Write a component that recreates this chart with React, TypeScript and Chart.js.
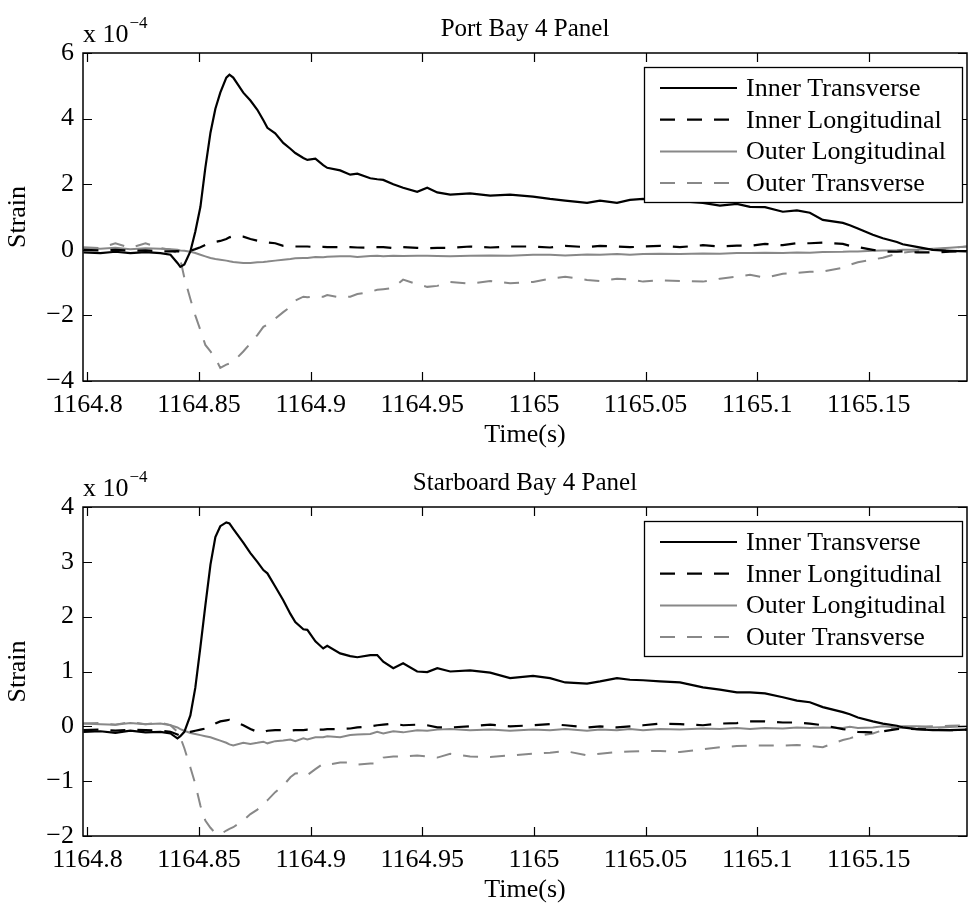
import React, { useEffect, useRef } from "react";
import { Chart, registerables } from "chart.js";

Chart.register(...registerables);

const FONT = '"Liberation Serif", "Times New Roman", Times, serif';

// shared time base (s)
const timeS = [
  1164.7982, 1164.8058, 1164.8125, 1164.8192, 1164.826, 1164.8327, 1164.8372, 1164.8403, 1164.8416, 1164.8434,
  1164.8461, 1164.8483, 1164.8506, 1164.8528, 1164.8551, 1164.8573, 1164.8595, 1164.8622, 1164.8636, 1164.8653,
  1164.8698, 1164.873, 1164.8761, 1164.8788, 1164.8806, 1164.8841, 1164.8877, 1164.8909, 1164.8931, 1164.8967,
  1164.8985, 1164.9021, 1164.9056, 1164.9074, 1164.9132, 1164.9177, 1164.9209, 1164.9267, 1164.9298, 1164.9325,
  1164.937, 1164.9414, 1164.9477, 1164.9522, 1164.9567, 1164.9625, 1164.9714, 1164.9804, 1164.9893, 1164.9996,
  1165.0072, 1165.014, 1165.0238, 1165.0296, 1165.0372, 1165.043, 1165.0489, 1165.0565, 1165.0654, 1165.0757,
  1165.0833, 1165.0909, 1165.0968, 1165.1035, 1165.1115, 1165.1178, 1165.1236, 1165.1294, 1165.1384, 1165.1415,
  1165.1451, 1165.1518, 1165.1563, 1165.1626, 1165.1652, 1165.1715, 1165.1787, 1165.1863, 1165.1939,
];

// Port Bay 4 Panel (x 1e-4)
const portInnerTransverse = [
  -0.08, -0.1, -0.06, -0.1, -0.07, -0.1, -0.15, -0.4, -0.52, -0.45,
  -0.05, 0.55, 1.31, 2.5, 3.57, 4.3, 4.79, 5.25, 5.34, 5.25,
  4.79, 4.55, 4.27, 3.95, 3.72, 3.55, 3.26, 3.08, 2.95, 2.8,
  2.74, 2.78, 2.58, 2.5, 2.42, 2.29, 2.32, 2.18, 2.15, 2.13,
  2.0, 1.89, 1.77, 1.89, 1.75, 1.68, 1.72, 1.65, 1.68, 1.62,
  1.55, 1.5, 1.43, 1.5, 1.43, 1.52, 1.55, 1.5, 1.48, 1.43,
  1.35, 1.4, 1.31, 1.3, 1.16, 1.2, 1.13, 0.91, 0.82, 0.75,
  0.65, 0.46, 0.35, 0.24, 0.17, 0.09, 0.0, -0.03, -0.05,
];
const portInnerLongitudinal = [
  0, -0.02, 0, -0.03, -0.02, -0.05, -0.05, -0.04, -0.05, -0.05,
  -0.03, 0.02, 0.08, 0.15, 0.2, 0.24, 0.27, 0.33, 0.38, 0.42,
  0.4, 0.33, 0.28, 0.24, 0.22, 0.2, 0.12, 0.11, 0.1, 0.1,
  0.1, 0.08, 0.09, 0.08, 0.08, 0.08, 0.07, 0.06, 0.08, 0.08,
  0.05, 0.08, 0.06, 0.05, 0.06, 0.06, 0.1, 0.07, 0.1, 0.1,
  0.07, 0.12, 0.08, 0.12, 0.1, 0.08, 0.1, 0.12, 0.08, 0.14,
  0.1, 0.13, 0.12, 0.18, 0.14, 0.2, 0.2, 0.22, 0.18, 0.12,
  0.08, 0, -0.05, -0.06, -0.05, -0.08, -0.08, -0.06, -0.04,
];
const portOuterLongitudinal = [
  0.05, 0.03, 0.06, 0.02, 0.05, 0.03, 0.02, 0, -0.02, -0.03,
  -0.06, -0.1, -0.15, -0.2, -0.25, -0.28, -0.3, -0.33, -0.35, -0.37,
  -0.4, -0.4, -0.38, -0.37, -0.36, -0.33, -0.3, -0.28, -0.26, -0.25,
  -0.25, -0.22, -0.23, -0.21, -0.2, -0.2, -0.22, -0.19, -0.18, -0.2,
  -0.18, -0.19, -0.18, -0.18, -0.19, -0.2, -0.18, -0.17, -0.18, -0.15,
  -0.15, -0.17, -0.14, -0.15, -0.13, -0.15, -0.13, -0.12, -0.13, -0.11,
  -0.12, -0.1, -0.1, -0.09, -0.1, -0.08, -0.09, -0.07, -0.06, -0.05,
  -0.05, -0.03, -0.02, -0.01, 0, 0, 0.03, 0.06, 0.1,
];
const portOuterTransverse = [
  0.08, 0.05, 0.2, 0.06, 0.2, 0.05, 0, -0.1, -0.3, -0.85,
  -1.5, -2.0, -2.45, -2.9, -3.1, -3.3, -3.6, -3.5, -3.47, -3.41,
  -3.1, -2.85, -2.6, -2.35, -2.28, -2.1, -1.9, -1.74, -1.55, -1.43,
  -1.45, -1.42, -1.43, -1.38, -1.45, -1.43, -1.35, -1.28, -1.22, -1.2,
  -1.16, -0.91, -1.05, -1.13, -1.1, -0.98, -1.03, -0.95, -1.02, -0.98,
  -0.88, -0.82, -0.92, -0.95, -0.88, -0.9, -0.97, -0.93, -0.95, -0.97,
  -0.88, -0.82, -0.76, -0.85, -0.73, -0.7, -0.67, -0.66, -0.55, -0.46,
  -0.38, -0.3, -0.24, -0.12, -0.09, -0.04, 0, 0.05, 0.1,
];

// Starboard Bay 4 Panel (x 1e-4)
const stbdInnerTransverse = [
  -0.1, -0.09, -0.12, -0.08, -0.11, -0.1, -0.13, -0.22, -0.18, -0.1,
  0.2, 0.7, 1.45, 2.2, 2.95, 3.45, 3.65, 3.72, 3.7, 3.6,
  3.35, 3.16, 3.0, 2.85, 2.79, 2.55, 2.3, 2.05, 1.9, 1.77,
  1.76, 1.55, 1.42, 1.47, 1.33, 1.28, 1.26, 1.3, 1.3, 1.18,
  1.06, 1.15, 1.0, 0.99, 1.06, 1.0, 1.02, 0.98, 0.88, 0.92,
  0.88, 0.8, 0.78, 0.82, 0.88, 0.85, 0.84, 0.82, 0.8, 0.71,
  0.67, 0.62, 0.62, 0.6, 0.53, 0.47, 0.44, 0.35, 0.26, 0.22,
  0.16, 0.09, 0.05, 0.01, -0.02, -0.05, -0.07, -0.07, -0.06,
];
const stbdInnerLongitudinal = [
  -0.07, -0.06, -0.08, -0.06, -0.07, -0.08, -0.1, -0.15, -0.17, -0.14,
  -0.1, -0.08, -0.06, -0.04, 0, 0.05, 0.09, 0.11, 0.12, 0.1,
  0.02, -0.05, -0.1, -0.11, -0.08, -0.07, -0.07, -0.08, -0.07, -0.07,
  -0.06, -0.06, -0.06, -0.05, -0.05, -0.04, -0.02, 0, 0.02, 0.03,
  0.05, 0.02, 0.03, 0.02, -0.02, -0.02, 0, 0.03, 0, 0.02,
  0.04, 0.02, -0.02, 0, -0.02, 0, 0.02, 0.05, 0.04, 0.02,
  0.05, 0.06, 0.09, 0.09, 0.07, 0.07, 0.05, 0.02, -0.05, -0.07,
  -0.1, -0.11, -0.09, -0.05, -0.04, -0.05, -0.06, -0.07, -0.06,
];
const stbdOuterLongitudinal = [
  0.05, 0.04, 0.03, 0.06, 0.04, 0.05, 0.02, -0.02, -0.05, -0.08,
  -0.12, -0.14, -0.16, -0.18, -0.2, -0.23, -0.26, -0.3, -0.33, -0.35,
  -0.3, -0.32, -0.3, -0.28, -0.31, -0.27, -0.26, -0.24, -0.27, -0.22,
  -0.24, -0.2, -0.2, -0.18, -0.2, -0.16, -0.15, -0.14, -0.1, -0.13,
  -0.09, -0.11, -0.07, -0.08, -0.06, -0.05, -0.07, -0.06, -0.08, -0.06,
  -0.07, -0.05, -0.08, -0.06, -0.07, -0.05, -0.07, -0.05, -0.06, -0.04,
  -0.05, -0.03, -0.05, -0.03, -0.04, -0.02, -0.03, -0.02, -0.03, -0.01,
  -0.03, -0.02, 0, -0.02, 0, 0, -0.02, -0.01, 0,
];
const stbdOuterTransverse = [
  0.05, 0.06, 0.03, 0.08, 0.04, 0.07, 0.02, -0.1, -0.2, -0.4,
  -0.75, -1.05, -1.45, -1.72, -1.85, -1.95, -1.97, -1.9, -1.87, -1.84,
  -1.72, -1.6, -1.52, -1.4, -1.35, -1.2, -1.08, -0.93, -0.86, -0.84,
  -0.89, -0.78, -0.68, -0.7, -0.66, -0.66, -0.7, -0.68, -0.68, -0.57,
  -0.55, -0.55, -0.53, -0.55, -0.57, -0.5, -0.55, -0.56, -0.53, -0.5,
  -0.48, -0.45, -0.53, -0.5, -0.47, -0.46, -0.45, -0.45, -0.47, -0.42,
  -0.38, -0.36, -0.35, -0.35, -0.35, -0.34, -0.36, -0.38, -0.25, -0.22,
  -0.17, -0.13, -0.07, -0.04, -0.02, -0.01, 0, 0.01, 0.02,
];

const seriesLabels = ["Inner Transverse", "Inner Longitudinal", "Outer Longitudinal", "Outer Transverse"];
const seriesColors = ["#000000", "#000000", "#888888", "#888888"];
const seriesDashed = [false, true, false, true];

const xMin = 1164.798;
const xMax = 1165.194;
const xTicks = [1164.8, 1164.85, 1164.9, 1164.95, 1165, 1165.05, 1165.1, 1165.15];
const xTickLabels = ["1164.8", "1164.85", "1164.9", "1164.95", "1165", "1165.05", "1165.1", "1165.15"];

const portYTicks = [-4, -2, 0, 2, 4, 6];
const portYTickLabels = ["\u22124", "\u22122", "0", "2", "4", "6"];
const stbdYTicks = [-2, -1, 0, 1, 2, 3, 4];
const stbdYTickLabels = ["\u22122", "\u22121", "0", "1", "2", "3", "4"];

const xTitle = "Time(s)";
const yTitle = "Strain";
const exponentBase = "x 10";
const exponentPower = "\u22124";

type PanelSpec = {
  title: string;
  values: number[][];
  yTicks: number[];
  yTickLabels: string[];
  height: number;
  plotTop: number;
  plotBottom: number;
  titleCenter: number;
  xTitlePadBottom: number;
};

const panels: PanelSpec[] = [
  {
    title: "Port Bay 4 Panel",
    values: [portInnerTransverse, portInnerLongitudinal, portOuterLongitudinal, portOuterTransverse],
    yTicks: portYTicks,
    yTickLabels: portYTickLabels,
    height: 452,
    plotTop: 53,
    plotBottom: 381,
    titleCenter: 29,
    xTitlePadBottom: 4,
  },
  {
    title: "Starboard Bay 4 Panel",
    values: [stbdInnerTransverse, stbdInnerLongitudinal, stbdOuterLongitudinal, stbdOuterTransverse],
    yTicks: stbdYTicks,
    yTickLabels: stbdYTickLabels,
    height: 451,
    plotTop: 55,
    plotBottom: 384,
    titleCenter: 31,
    xTitlePadBottom: 0,
  },
];

const FS = 26;
const TITLE_FS = 25;
const TICK_LEN = 9;
const DASH = [15, 12];

const matlabPlugin = {
  id: "matlabDecor",
  afterDatasetsDraw(chart: any) {
    const { ctx, chartArea } = chart;
    const { left, right, top, bottom } = chartArea;
    const xs = chart.scales.x;
    const ys = chart.scales.y;
    ctx.save();
    // axes box + inward ticks
    ctx.strokeStyle = "#000";
    ctx.lineWidth = 1.5;
    ctx.setLineDash([]);
    ctx.strokeRect(left, top, right - left, bottom - top);
    ctx.beginPath();
    xs.ticks.forEach((t: any) => {
      const px = Math.round(xs.getPixelForValue(t.value)) + 0.5;
      ctx.moveTo(px, bottom);
      ctx.lineTo(px, bottom - TICK_LEN);
      ctx.moveTo(px, top);
      ctx.lineTo(px, top + TICK_LEN);
    });
    ys.ticks.forEach((t: any) => {
      const py = Math.round(ys.getPixelForValue(t.value)) + 0.5;
      ctx.moveTo(left, py);
      ctx.lineTo(left + TICK_LEN, py);
      ctx.moveTo(right, py);
      ctx.lineTo(right - TICK_LEN, py);
    });
    ctx.lineWidth = 1.2;
    ctx.stroke();

    // exponent label
    ctx.fillStyle = "#000";
    ctx.textBaseline = "alphabetic";
    ctx.textAlign = "left";
    ctx.font = `${FS}px ${FONT}`;
    ctx.fillText(exponentBase, left, top - 11);
    const w = ctx.measureText(exponentBase).width;
    ctx.font = `17px ${FONT}`;
    ctx.fillText(exponentPower, left + w + 1, top - 25);

    // legend
    const bx = right - 323;
    const by = top + 14;
    const bw = 318;
    const bh = 135;
    ctx.fillStyle = "#fff";
    ctx.fillRect(bx, by, bw, bh);
    ctx.strokeStyle = "#000";
    ctx.lineWidth = 1.3;
    ctx.strokeRect(bx + 0.5, by + 0.5, bw, bh);
    ctx.font = `${FS}px ${FONT}`;
    ctx.textBaseline = "middle";
    chart.data.datasets.forEach((ds: any, i: number) => {
      const cy = top + 35 + i * 31.7;
      ctx.beginPath();
      ctx.strokeStyle = ds.borderColor;
      ctx.lineWidth = ds.borderWidth;
      ctx.setLineDash(ds.borderDash || []);
      ctx.moveTo(right - 307, cy);
      ctx.lineTo(right - 230, cy);
      ctx.stroke();
      ctx.setLineDash([]);
      ctx.fillStyle = "#000";
      ctx.fillText(ds.label, right - 221, cy + 1);
    });
    ctx.restore();
  },
};

function buildChart(canvas: HTMLCanvasElement, p: PanelSpec) {
  const datasets = p.values.map((vals, i) => ({
    label: seriesLabels[i],
    data: timeS.map((t, j) => ({ x: t, y: vals[j] })),
    borderColor: seriesColors[i],
    borderWidth: seriesColors[i] === "#000000" ? 2.2 : 2,
    borderDash: seriesDashed[i] ? DASH : [],
    pointRadius: 0,
    tension: 0,
    fill: false,
  }));
  const xScaleHeight = p.height - p.plotBottom;
  const titlePadTop = p.titleCenter - TITLE_FS / 2;
  const titlePadBottom = p.plotTop - titlePadTop - TITLE_FS;
  return new Chart(canvas, {
    type: "line",
    data: { datasets },
    plugins: [matlabPlugin],
    options: {
      animation: false,
      responsive: false,
      maintainAspectRatio: false,
      layout: { padding: { left: 0, right: 2, top: 0, bottom: 0 } },
      plugins: {
        legend: { display: false },
        tooltip: { enabled: false },
        title: {
          display: true,
          fullSize: false,
          text: p.title,
          color: "#000",
          font: { family: FONT, size: TITLE_FS, weight: "normal", lineHeight: 1 },
          padding: { top: titlePadTop, bottom: titlePadBottom },
        },
      },
      scales: {
        x: {
          type: "linear",
          min: xMin,
          max: xMax,
          afterBuildTicks: (s: any) => {
            s.ticks = xTicks.map((v) => ({ value: v }));
          },
          afterFit: (s: any) => {
            s.height = xScaleHeight;
          },
          ticks: {
            autoSkip: false,
            maxRotation: 0,
            minRotation: 0,
            padding: 11,
            color: "#000",
            font: { family: FONT, size: FS, lineHeight: 1 },
            callback: (_v: any, i: number) => xTickLabels[i],
          },
          grid: { display: false, drawTicks: false },
          border: { display: false },
          title: {
            display: true,
            text: xTitle,
            color: "#000",
            font: { family: FONT, size: FS, lineHeight: 1 },
            padding: { top: 0, bottom: p.xTitlePadBottom },
          },
        },
        y: {
          type: "linear",
          min: p.yTicks[0],
          max: p.yTicks[p.yTicks.length - 1],
          afterBuildTicks: (s: any) => {
            s.ticks = p.yTicks.map((v) => ({ value: v }));
          },
          afterFit: (s: any) => {
            s.width = 83;
          },
          ticks: {
            padding: 9,
            color: "#000",
            font: { family: FONT, size: FS, lineHeight: 1 },
            callback: (_v: any, i: number) => p.yTickLabels[i],
          },
          grid: { display: false, drawTicks: false },
          border: { display: false },
          title: {
            display: true,
            text: yTitle,
            color: "#000",
            font: { family: FONT, size: FS, lineHeight: 1 },
            padding: { top: 5, bottom: 0 },
          },
        },
      },
    } as any,
  });
}

export default function App() {
  const ref1 = useRef<HTMLCanvasElement>(null);
  const ref2 = useRef<HTMLCanvasElement>(null);
  useEffect(() => {
    Chart.defaults.font.family = FONT;
    const c1 = buildChart(ref1.current!, panels[0]);
    const c2 = buildChart(ref2.current!, panels[1]);
    return () => {
      c1.destroy();
      c2.destroy();
    };
  }, []);
  return (
    <div style={{ position: "absolute", left: 0, top: 0, width: 969, height: 903, background: "#fff" }}>
      <canvas
        ref={ref1}
        width={969}
        height={panels[0].height}
        style={{ position: "absolute", left: 0, top: 0, width: 969, height: panels[0].height }}
      />
      <canvas
        ref={ref2}
        width={969}
        height={panels[1].height}
        style={{ position: "absolute", left: 0, top: panels[0].height, width: 969, height: panels[1].height }}
      />
    </div>
  );
}
